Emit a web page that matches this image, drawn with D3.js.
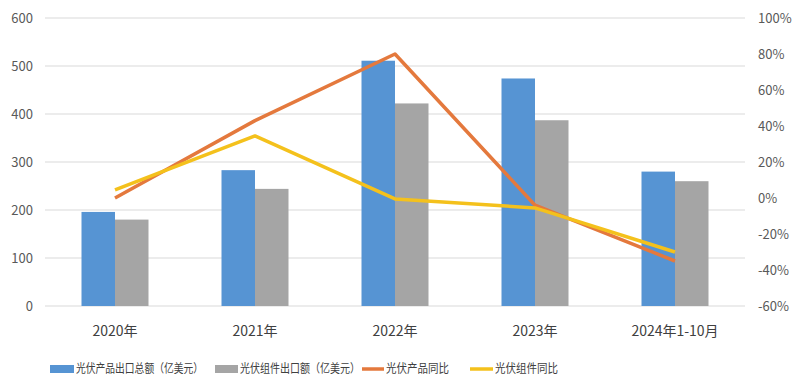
<!DOCTYPE html>
<html><head><meta charset="utf-8">
<script src="https://cdn.jsdelivr.net/npm/d3@7"></script>
<style>body{margin:0;background:#fff}svg{display:block}</style>
</head><body>
<svg id="c" width="800" height="392"></svg>
<script>
const categories = ["2020年","2021年","2022年","2023年","2024年1-10月"];
const productTotal = [196, 283, 511, 474, 280];
const moduleTotal = [180, 244, 422, 387, 260];
const productYoY = [0, 43, 80, -4, -35];
const moduleYoY = [4.5, 34.5, -0.5, -5.5, -30];
const leftTicks = [0,100,200,300,400,500,600];
const rightTicks = [-60,-40,-20,0,20,40,60,80,100];
const seriesNames = ["光伏产品出口总额（亿美元）","光伏组件出口额（亿美元）","光伏产品同比","光伏组件同比"];
const colors = ["#5694d3","#a5a5a5","#e4793d","#f4c11c"];

const svg = d3.select("#c");
const font = "'Noto Sans CJK SC','Noto Sans',sans-serif";
const L = 45, R = 745, T = 18, B = 306;
const x = d3.scaleBand().domain(categories).range([L,R]);
const xs = d3.scaleBand().domain([0,1]).range([0, 67]);
const yL = d3.scaleLinear().domain([0,600]).range([B,T]);
const yR = d3.scaleLinear().domain([-60,100]).range([B,T]);

// gridlines
svg.append("g").selectAll("line").data(leftTicks).join("line")
  .attr("x1",L).attr("x2",R).attr("y1",d=>yL(d)).attr("y2",d=>yL(d))
  .attr("stroke","#d9d9d9").attr("stroke-width",1);

// left axis labels
svg.append("g").selectAll("text").data(leftTicks).join("text")
  .attr("x",33).attr("y",d=>yL(d)).attr("dy","0.35em").attr("text-anchor","end")
  .attr("font-family",font).attr("font-size",13).attr("fill","#595959").text(d=>d);
// right axis labels
svg.append("g").selectAll("text").data(rightTicks).join("text")
  .attr("x",758).attr("y",d=>yR(d)).attr("dy","0.35em").attr("text-anchor","start")
  .attr("font-family",font).attr("font-size",13).attr("fill","#595959").text(d=>d+"%");
// x labels
svg.append("g").selectAll("text").data(categories).join("text")
  .attr("x",d=>x(d)+x.bandwidth()/2).attr("y",331).attr("dy","0.35em").attr("text-anchor","middle")
  .attr("font-family",font).attr("font-size",14).attr("fill","#404040").text(d=>d);

// bars
[productTotal, moduleTotal].forEach((vals,si)=>{
  svg.append("g").selectAll("rect").data(vals).join("rect")
    .attr("x",(d,i)=>x(categories[i])+x.bandwidth()/2-33.5+xs(si))
    .attr("width",xs.bandwidth())
    .attr("y",d=>yL(d)).attr("height",d=>yL(0)-yL(d))
    .attr("fill",colors[si]);
});

// lines
const line = d3.line().x((d,i)=>x(categories[i])+x.bandwidth()/2).y(d=>yR(d));
[productYoY, moduleYoY].forEach((vals,si)=>{
  svg.append("path").datum(vals).attr("d",line).attr("fill","none")
    .attr("stroke",colors[si+2]).attr("stroke-width",3.5).attr("stroke-linejoin","round");
});

// legend
const lg = [{x:50,w:24,type:"rect",tw:127},{x:215,w:23,type:"rect",tw:120},{x:362,w:22,type:"line",tw:63},{x:470,w:23,type:"line",tw:63}];
lg.forEach((l,i)=>{
  if(l.type==="rect") svg.append("rect").attr("x",l.x).attr("y",365).attr("width",l.w).attr("height",8).attr("fill",colors[i]);
  else svg.append("line").attr("x1",l.x).attr("x2",l.x+l.w).attr("y1",369).attr("y2",369).attr("stroke",colors[i]).attr("stroke-width",3.5);
  svg.append("text").attr("x",l.x+l.w+2).attr("y",369).attr("dy","0.35em")
    .attr("font-family",font).attr("font-size",12).attr("fill","#404040")
    .attr("textLength",l.tw).attr("lengthAdjust","spacingAndGlyphs").text(seriesNames[i]);
});
</script>
</body></html>
